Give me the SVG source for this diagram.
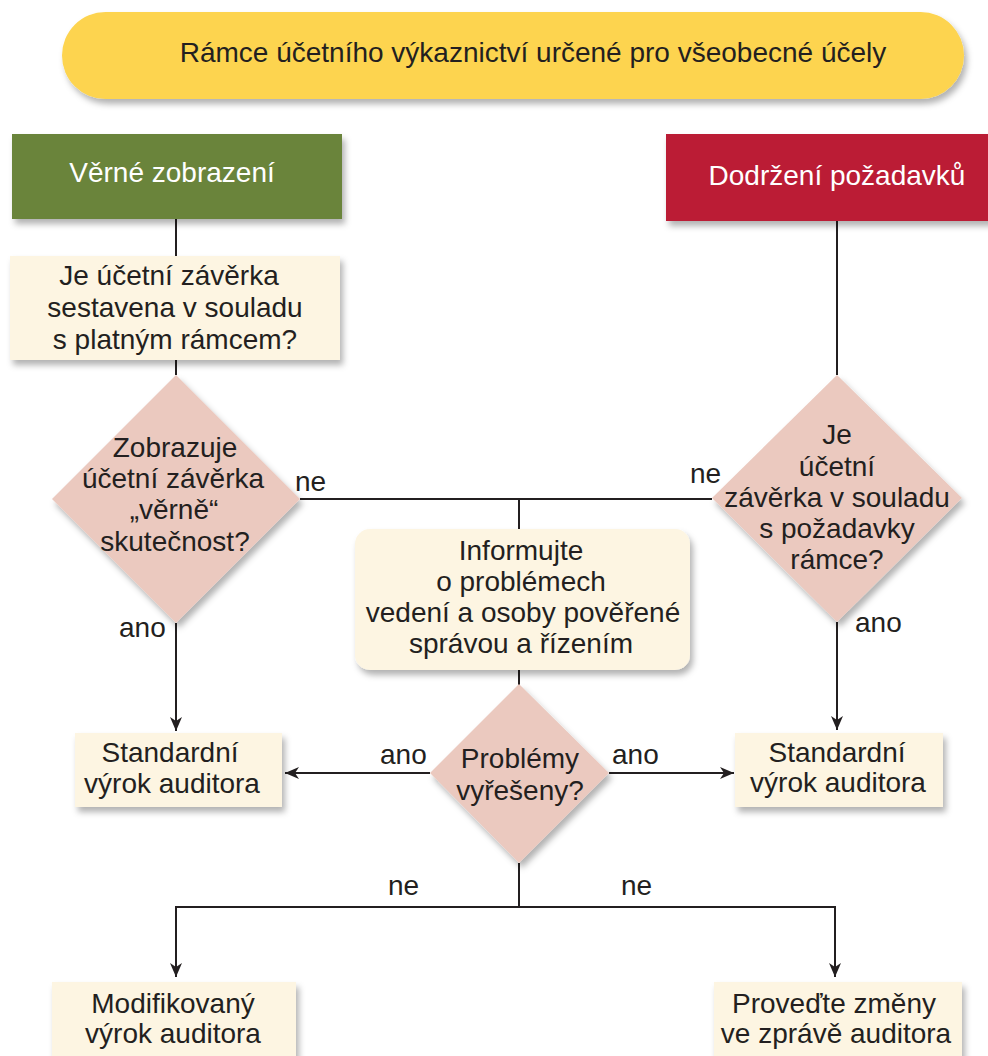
<svg xmlns="http://www.w3.org/2000/svg" width="988" height="1056" viewBox="0 0 988 1056">
  <defs>
    <style>
      .t { font-family: "Liberation Sans", Arial, sans-serif; font-size: 28px; fill: #231F20; text-anchor: middle; }
      .w { fill: #FFFFFF; }
      .lbl { font-family: "Liberation Sans", Arial, sans-serif; font-size: 28px; fill: #231F20; }
      .cream { fill: #FDF5E2; }
      .dia { fill: #EBC9BF; }
      .conn { fill: none; stroke: #231F20; stroke-width: 2; }
    </style>
    <filter id="shadow" x="-10%" y="-10%" width="130%" height="140%">
      <feDropShadow dx="3" dy="5" stdDeviation="3" flood-color="#000000" flood-opacity="0.3"/>
    </filter>
    <marker id="arrow" markerUnits="userSpaceOnUse" markerWidth="16" markerHeight="14" refX="14" refY="6" orient="auto">
      <path d="M0,0 L14,6 L0,12 L4,6 z" fill="#231F20"/>
    </marker>
  </defs>

  <!-- connectors -->
  <g id="connectors">
    <path class="conn" d="M176,219 L176,256"/>
    <path class="conn" d="M176,360 L176,375"/>
    <path class="conn" d="M176,623 L176,731" marker-end="url(#arrow)"/>
    <path class="conn" d="M300,499 L712,499"/>
    <path class="conn" d="M519,499 L519,529"/>
    <path class="conn" d="M519,670 L519,685"/>
    <path class="conn" d="M430,773 L285,773" marker-end="url(#arrow)"/>
    <path class="conn" d="M609,773 L734,773" marker-end="url(#arrow)"/>
    <path class="conn" d="M837,221 L837,375"/>
    <path class="conn" d="M837,622 L837,730" marker-end="url(#arrow)"/>
    <path class="conn" d="M519,863 L519,907"/>
    <path class="conn" d="M519,907 L176,907 L176,977" marker-end="url(#arrow)"/>
    <path class="conn" d="M519,907 L835,907 L835,977" marker-end="url(#arrow)"/>
    <text class="lbl" x="295" y="491">ne</text>
    <text class="lbl" x="690" y="483">ne</text>
    <text class="lbl" x="119" y="637">ano</text>
    <text class="lbl" x="855" y="632">ano</text>
    <text class="lbl" x="380" y="764">ano</text>
    <text class="lbl" x="612" y="764">ano</text>
    <text class="lbl" x="388" y="895">ne</text>
    <text class="lbl" x="621" y="895">ne</text>
  </g>

  <!-- title -->
  <g id="framework">
    <rect x="62" y="12" width="902" height="87" rx="43.5" fill="#FDD44F" filter="url(#shadow)"/>
    <text class="t" x="533" y="62">Rámce účetního výkaznictví určené pro všeobecné účely</text>
  </g>

  <g id="fair-presentation">
    <rect x="12" y="134" width="330" height="85" fill="#6B843A" filter="url(#shadow)"/>
    <text class="t w" x="172" y="182">Věrné zobrazení</text>
  </g>

  <g id="compliance">
    <rect x="666" y="134" width="330" height="87" fill="#BB1F34" filter="url(#shadow)"/>
    <text class="t w" x="837" y="185">Dodržení požadavků</text>
  </g>

  <g id="prepared-question">
    <rect class="cream" x="10" y="256" width="330" height="104" filter="url(#shadow)"/>
    <text class="t" x="169" y="285">Je účetní závěrka</text>
    <text class="t" x="175" y="317">sestavena v souladu</text>
    <text class="t" x="175" y="349">s platným rámcem?</text>
  </g>

  <g id="fair-question">
    <polygon class="dia" points="176,375 300,499 176,623 52,499" filter="url(#shadow)"/>
    <text class="t" x="175" y="457">Zobrazuje</text>
    <text class="t" x="173" y="488">účetní závěrka</text>
    <text class="t" x="174" y="519">„věrně“</text>
    <text class="t" x="175" y="551">skutečnost?</text>
  </g>

  <g id="compliance-question">
    <polygon class="dia" points="837,375 962,498 837,622 712,498" filter="url(#shadow)"/>
    <text class="t" x="837" y="444">Je</text>
    <text class="t" x="837" y="476">účetní</text>
    <text class="t" x="837" y="507">závěrka v souladu</text>
    <text class="t" x="837" y="538">s požadavky</text>
    <text class="t" x="837" y="569">rámce?</text>
  </g>

  <g id="inform">
    <rect class="cream" x="355" y="529" width="335" height="141" rx="15" filter="url(#shadow)"/>
    <text class="t" x="521" y="560">Informujte</text>
    <text class="t" x="521" y="591">o problémech</text>
    <text class="t" x="523" y="622">vedení a osoby pověřené</text>
    <text class="t" x="521" y="653">správou a řízením</text>
  </g>

  <g id="resolved-question">
    <polygon class="dia" points="519,684 609,773 519,863 430,773" filter="url(#shadow)"/>
    <text class="t" x="520" y="768">Problémy</text>
    <text class="t" x="520" y="800">vyřešeny?</text>
  </g>

  <g id="standard-left">
    <rect class="cream" x="75" y="733" width="207" height="74" filter="url(#shadow)"/>
    <text class="t" x="170" y="762">Standardní</text>
    <text class="t" x="172" y="793">výrok auditora</text>
  </g>

  <g id="standard-right">
    <rect class="cream" x="735" y="733" width="208" height="74" filter="url(#shadow)"/>
    <text class="t" x="837" y="762">Standardní</text>
    <text class="t" x="838" y="792">výrok auditora</text>
  </g>

  <g id="modified">
    <rect class="cream" x="52" y="982" width="244" height="80" filter="url(#shadow)"/>
    <text class="t" x="173" y="1013">Modifikovaný</text>
    <text class="t" x="173" y="1043">výrok auditora</text>
  </g>

  <g id="amend-report">
    <rect class="cream" x="714" y="982" width="248" height="80" filter="url(#shadow)"/>
    <text class="t" x="834" y="1013">Proveďte změny</text>
    <text class="t" x="836" y="1043">ve zprávě auditora</text>
  </g>
</svg>
